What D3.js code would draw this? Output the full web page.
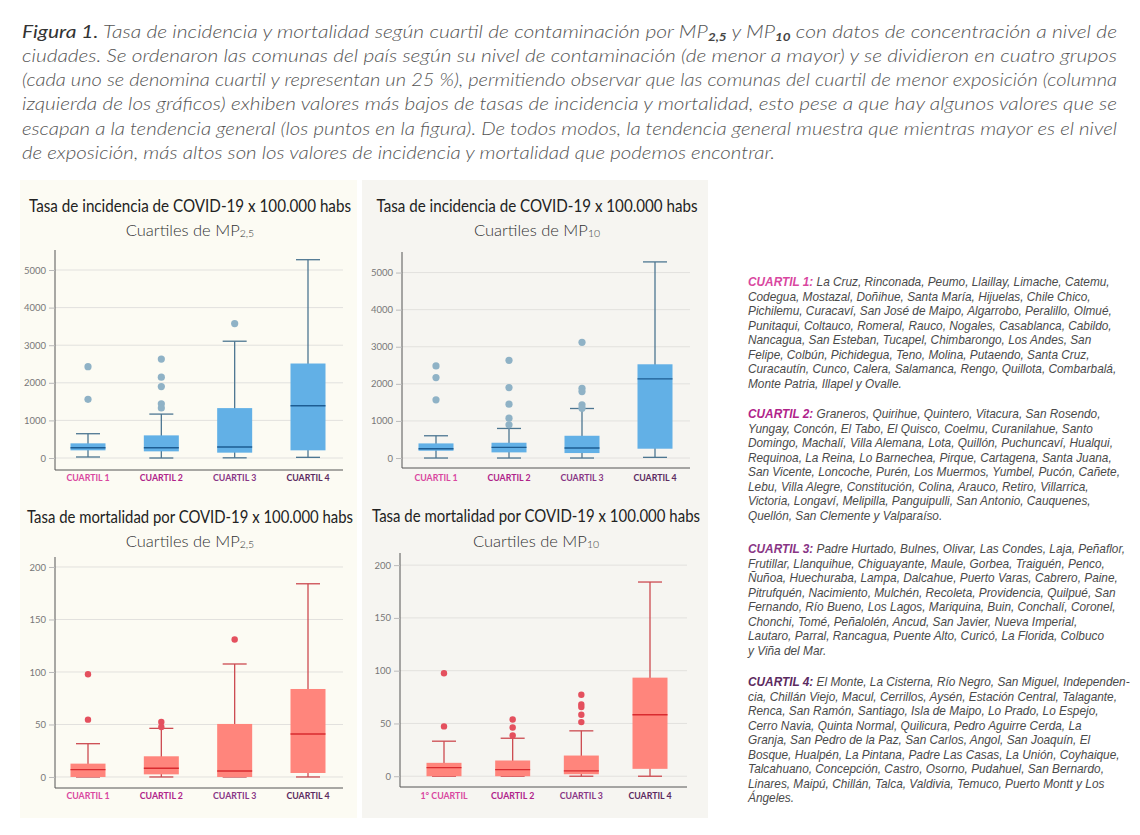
<!DOCTYPE html>
<html><head><meta charset="utf-8">
<script src="https://cdn.jsdelivr.net/npm/d3@7"></script>
<style>body{margin:0;background:#fff} svg{display:block}</style>
</head><body>
<svg id="c" width="1140" height="835"></svg>
<script>
// ---------------- DATA ----------------
const categories = ["CUARTIL 1", "CUARTIL 2", "CUARTIL 3", "CUARTIL 4"];
const categoriesAlt = ["1° CUARTIL", "CUARTIL 2", "CUARTIL 3", "CUARTIL 4"];
const categoryColors = ["#d9479f", "#b0238a", "#883585", "#5b2a60"];
const incidenceTicks = [0, 1000, 2000, 3000, 4000, 5000];
const mortalityTicks = [0, 50, 100, 150, 200];

// box stats per quartile: [lower whisker, Q1, median, Q3, upper whisker]
const incMP25 = [[27, 204, 274, 390, 646], [0, 177, 274, 602, 1168], [5, 142, 292, 1327, 3106], [18, 204, 1389, 2513, 5274]];
const incMP25Out = [[2430, 1560], [2630, 2150, 1900, 1440, 1330], [3575], []];
const incMP10 = [[0, 197, 251, 394, 600], [0, 152, 287, 412, 797], [0, 134, 269, 600, 1335], [18, 251, 2133, 2527, 5287]];
const incMP10Out = [[2482, 2168, 1568], [2634, 1900, 1452, 1075, 896], [3118, 1880, 1790, 1434, 1344], []];
const mortMP25 = [[0, 0, 7, 12.7, 31.7], [0, 2.5, 8.3, 19.7, 46.3], [0, 0, 5.7, 50.5, 107.6], [0, 3.8, 41, 83.8, 184]];
const mortMP25Out = [[97.8, 54.6], [52.4, 47.6], [131], []];
const mortMP10 = [[0, 0, 8.2, 12.7, 33.2], [0, 0, 6.3, 14.9, 36], [0, 1.9, 5.1, 19.6, 43], [0, 7, 58.2, 93.4, 184]];
const mortMP10Out = [[97.5, 47.2], [53.8, 46.2, 38.6], [77.2, 68, 65.5, 58.2, 51.3], []];

const titleInc = "Tasa de incidencia de COVID-19 x 100.000 habs";
const titleMort = "Tasa de mortalidad por COVID-19 x 100.000 habs";

const captionLines = [
  [["Figura 1.", "fig"], [" Tasa de incidencia y mortalidad según cuartil de contaminación por MP", ""], ["2,5", "sub"], [" y MP", ""], ["10", "sub"], [" con datos de concentración a nivel de", ""]],
  [["ciudades. Se ordenaron las comunas del país según su nivel de contaminación (de menor a mayor) y se dividieron en cuatro grupos", ""]],
  [["(cada uno se denomina cuartil y representan un 25 %), permitiendo observar que las comunas del cuartil de menor exposición (columna", ""]],
  [["izquierda de los gráficos) exhiben valores más bajos de tasas de incidencia y mortalidad, esto pese a que hay algunos valores que se", ""]],
  [["escapan a la tendencia general (los puntos en la figura). De todos modos, la tendencia general muestra que mientras mayor es el nivel", ""]],
  [["de exposición, más altos son los valores de incidencia y mortalidad que podemos encontrar.", ""]]
];

const listQ1 = ["La Cruz, Rinconada, Peumo, Llaillay, Limache, Catemu,",
  "Codegua, Mostazal, Doñihue, Santa María, Hijuelas, Chile Chico,",
  "Pichilemu, Curacaví, San José de Maipo, Algarrobo, Peralillo, Olmué,",
  "Punitaqui, Coltauco, Romeral, Rauco, Nogales, Casablanca, Cabildo,",
  "Nancagua, San Esteban, Tucapel, Chimbarongo, Los Andes, San",
  "Felipe, Colbún, Pichidegua, Teno, Molina, Putaendo, Santa Cruz,",
  "Curacautín, Cunco, Calera, Salamanca, Rengo, Quillota, Combarbalá,",
  "Monte Patria, Illapel y Ovalle."];
const listQ2 = ["Graneros, Quirihue, Quintero, Vitacura, San Rosendo,",
  "Yungay, Concón, El Tabo, El Quisco, Coelmu, Curanilahue, Santo",
  "Domingo, Machalí, Villa Alemana, Lota, Quillón, Puchuncaví, Hualqui,",
  "Requinoa, La Reina, Lo Barnechea, Pirque, Cartagena, Santa Juana,",
  "San Vicente, Loncoche, Purén, Los Muermos, Yumbel, Pucón, Cañete,",
  "Lebu, Villa Alegre, Constitución, Colina, Arauco, Retiro, Villarrica,",
  "Victoria, Longaví, Melipilla, Panguipulli, San Antonio, Cauquenes,",
  "Quellón, San Clemente y Valparaíso."];
const listQ3 = ["Padre Hurtado, Bulnes, Olivar, Las Condes, Laja, Peñaflor,",
  "Frutillar, Llanquihue, Chiguayante, Maule, Gorbea, Traiguén, Penco,",
  "Ñuñoa, Huechuraba, Lampa, Dalcahue, Puerto Varas, Cabrero, Paine,",
  "Pitrufquén, Nacimiento, Mulchén, Recoleta, Providencia, Quilpué, San",
  "Fernando, Río Bueno, Los Lagos, Mariquina, Buin, Conchalí, Coronel,",
  "Chonchi, Tomé, Peñalolén, Ancud, San Javier, Nueva Imperial,",
  "Lautaro, Parral, Rancagua, Puente Alto, Curicó, La Florida, Colbuco",
  "y Viña del Mar."];
const listQ4 = ["El Monte, La Cisterna, Río Negro, San Miguel, Independen-",
  "cia, Chillán Viejo, Macul, Cerrillos, Aysén, Estación Central, Talagante,",
  "Renca, San Ramón, Santiago, Isla de Maipo, Lo Prado, Lo Espejo,",
  "Cerro Navia, Quinta Normal, Quilicura, Pedro Aguirre Cerda, La",
  "Granja, San Pedro de la Paz, San Carlos, Angol, San Joaquín, El",
  "Bosque, Hualpén, La Pintana, Padre Las Casas, La Unión, Coyhaique,",
  "Talcahuano, Concepción, Castro, Osorno, Pudahuel, San Bernardo,",
  "Linares, Maipú, Chillán, Talca, Valdivia, Temuco, Puerto Montt y Los",
  "Ángeles."];

// ---------------- DRAW ----------------
const svg = d3.select("#c");
const FONT = "Lato, 'Open Sans', sans-serif";

// panel backgrounds
svg.append("rect").attr("x", 20).attr("y", 180).attr("width", 337).attr("height", 638).attr("fill", "#fcfbf3");
svg.append("rect").attr("x", 362).attr("y", 180).attr("width", 346).attr("height", 638).attr("fill", "#f6f5f1");

// caption
const cap = svg.append("g").attr("font-family", FONT).attr("font-style", "italic").attr("font-size", 18).attr("fill", "#555");
captionLines.forEach((segs, i) => {
  const t = cap.append("text").attr("x", 22).attr("y", 37.5 + i * 24.3).attr("font-weight", 300);
  let shifted = false;
  segs.forEach(([txt, kind]) => {
    const ts = t.append("tspan").text(txt);
    if (kind === "fig") ts.attr("fill", "#333").attr("font-weight", 400);
    if (kind === "sub") { ts.attr("font-size", 11.5).attr("dy", 3).attr("font-weight", 700).attr("fill", "#444"); shifted = true; }
    else if (shifted) { ts.attr("dy", -3); shifted = false; }
  });
  const w = i < 5 ? 1095 : 753;
  t.attr("textLength", w).attr("lengthAdjust", "spacingAndGlyphs");
});

const panels = [
  { stats: incMP25, out: incMP25Out, ticks: incidenceTicks, cats: categories, title: titleInc, sub: "2,5",
    ax: 55, right: 343, yDom: [-319, 5532], yRange: [470, 250], cx: [88, 308], tcx: 190, tW: 322, tY: 212, sY: 236, cY: 481,
    fill: "#62b0e6", med: "#1d5c92", wh: "#4d7691", dot: "#8fb2c6", r: 3.6 },
  { stats: incMP10, out: incMP10Out, ticks: incidenceTicks, cats: categories, title: titleInc, sub: "10",
    ax: 402, right: 690, yDom: [-269, 5554], yRange: [468, 252], cx: [436, 655], tcx: 537, tW: 321, tY: 212, sY: 236, cY: 481,
    fill: "#62b0e6", med: "#1d5c92", wh: "#4d7691", dot: "#8fb2c6", r: 3.6 },
  { stats: mortMP25, out: mortMP25Out, ticks: mortalityTicks, cats: categories, title: titleMort, sub: "2,5",
    ax: 55, right: 343, yDom: [-10.5, 209.5], yRange: [788, 557], cx: [88, 308], tcx: 190, tW: 326, tY: 523, sY: 547, cY: 799,
    fill: "#ff857c", med: "#d92b2f", wh: "#cc4a50", dot: "#e4505e", r: 3.2 },
  { stats: mortMP10, out: mortMP10Out, ticks: mortalityTicks, cats: categoriesAlt, title: titleMort, sub: "10",
    ax: 400, right: 687, yDom: [-10.2, 211.5], yRange: [787, 553], cx: [444, 650], tcx: 536, tW: 328, tY: 522, sY: 547, cY: 799,
    fill: "#ff857c", med: "#d92b2f", wh: "#cc4a50", dot: "#e4505e", r: 3.2 }
];

panels.forEach(p => {
  const g = svg.append("g");
  const y = d3.scaleLinear().domain(p.yDom).range(p.yRange);
  const x = d3.scalePoint().domain(p.cats).range(p.cx);

  // titles
  g.append("text").attr("x", p.tcx).attr("y", p.tY).attr("text-anchor", "middle")
    .attr("font-family", FONT).attr("font-size", 16.5).attr("fill", "#222").text(p.title)
    .attr("textLength", p.tW).attr("lengthAdjust", "spacingAndGlyphs");
  const st = g.append("text").attr("x", p.tcx).attr("y", p.sY).attr("text-anchor", "middle")
    .attr("font-family", FONT).attr("font-size", 16.5).attr("font-weight", 300).attr("fill", "#333");
  st.append("tspan").text("Cuartiles de MP");
  st.append("tspan").attr("font-size", 10.5).attr("dy", 1).text(p.sub);

  // grid
  g.selectAll(".grid").data(p.ticks).enter().append("line")
    .attr("x1", p.ax).attr("x2", p.right).attr("y1", d => y(d)).attr("y2", d => y(d))
    .attr("stroke", "#e2e1de").attr("stroke-width", 1);

  // y axis
  const ya = g.append("g").attr("transform", `translate(${p.ax},0)`)
    .call(d3.axisLeft(y).tickValues(p.ticks).tickSize(6).tickPadding(3).tickFormat(d3.format("d")));
  ya.select(".domain").attr("stroke", "#555").attr("d", `M0,${p.yRange[0]}V${p.yRange[1]}`);
  ya.selectAll(".tick line").attr("stroke", "#bbb");
  ya.selectAll(".tick text").attr("font-family", FONT).attr("font-size", 9.5).attr("fill", "#777");

  // x axis line
  g.append("line").attr("x1", p.ax).attr("x2", p.right).attr("y1", p.yRange[0]).attr("y2", p.yRange[0])
    .attr("stroke", "#555");

  // category labels
  g.selectAll(".cat").data(p.cats).enter().append("text")
    .attr("x", d => x(d)).attr("y", p.cY).attr("text-anchor", "middle")
    .attr("font-family", FONT).attr("font-weight", 700).attr("font-size", 8.8)
    .attr("fill", (d, i) => categoryColors[i]).text(d => d);

  const bw = 35, cw = 24;
  p.stats.forEach((s, i) => {
    const cx = x(p.cats[i]);
    const [lo, q1, md, q3, hi] = s;
    g.append("line").attr("x1", cx).attr("x2", cx).attr("y1", y(lo)).attr("y2", y(hi)).attr("stroke", p.wh).attr("stroke-width", 1.3);
    [lo, hi].forEach(v => g.append("line").attr("x1", cx - cw / 2).attr("x2", cx + cw / 2).attr("y1", y(v)).attr("y2", y(v)).attr("stroke", p.wh).attr("stroke-width", 1.3));
    g.append("rect").attr("x", cx - bw / 2).attr("width", bw).attr("y", y(q3)).attr("height", Math.max(1, y(q1) - y(q3))).attr("fill", p.fill);
    g.append("line").attr("x1", cx - bw / 2).attr("x2", cx + bw / 2).attr("y1", y(md)).attr("y2", y(md)).attr("stroke", p.med).attr("stroke-width", 1.4);
    p.out[i].forEach(v => g.append("circle").attr("cx", cx).attr("cy", y(v)).attr("r", p.r).attr("fill", p.dot));
  });
});

// right side lists
const lists = [listQ1, listQ2, listQ3, listQ4];
const listStarts = [286, 418, 553, 686];
const rg = svg.append("g").attr("font-family", "'Liberation Sans', Arial, sans-serif").attr("font-size", 12.3);
const probe = rg.append("text").attr("font-style", "italic").text(listQ1[2]);
const sx = 364 / probe.node().getComputedTextLength();
probe.remove();
const rgi = rg.append("g").attr("transform", `translate(748,0) scale(${sx},1)`);
lists.forEach((arr, b) => {
  arr.forEach((line, i) => {
    const t = rgi.append("text").attr("x", 0).attr("y", listStarts[b] + i * 14.55).attr("fill", "#4a4a4a").attr("font-style", "italic");
    if (i === 0) {
      t.append("tspan").attr("font-weight", 700).attr("fill", categoryColors[b]).text(`CUARTIL ${b + 1}:`);
      t.append("tspan").text(" " + line);
    } else t.text(line);
  });
});
</script>
</body></html>
